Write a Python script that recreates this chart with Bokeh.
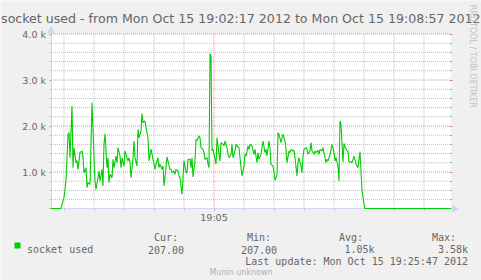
import math
import pandas as pd
from bokeh.plotting import figure
from bokeh.models import (Range1d, FixedTicker, DatetimeTickFormatter, LinearAxis,
                          Label, Arrow, NormalHead, BoxAnnotation, ColumnDataSource)
from bokeh.embed import file_html
from bokeh.resources import INLINE

# ---------------- data ----------------
title_text = "socket used - from Mon Oct 15 19:02:17 2012 to Mon Oct 15 19:08:57 2012"
t_start = "2012-10-15 19:02:17"
t_end = "2012-10-15 19:08:57"
series_name = "socket used"

secs = [0, 10, 11, 13, 15, 17, 18, 19, 21, 22, 23, 25, 26, 27, 29, 31, 32, 33, 35, 36, 37, 39,
        41, 43, 44, 45, 47, 48, 49, 51, 52, 53, 54, 56, 57, 58, 59, 61, 62, 63, 65, 66, 67, 69,
        70, 71, 73, 74, 75, 77, 78, 79, 80, 82, 83, 84, 86, 87, 88, 90, 91, 92, 94, 95, 97, 98,
        100, 102, 104, 105, 107, 108, 109, 111, 112, 113, 115, 116, 117, 119, 120, 121, 123, 124,
        125, 127, 128, 129, 131, 132, 133, 135, 136, 137, 139, 140, 141, 142, 144, 145, 146, 148,
        149, 150, 152, 153, 154, 156, 157, 158, 159, 160, 161, 162, 164, 165, 166, 168, 169, 170,
        172, 173, 174, 176, 177, 178, 180, 181, 182, 184, 185, 186, 188, 189, 190, 191, 193, 194,
        195, 197, 198, 199, 201, 203, 204, 206, 207, 208, 210, 211, 212, 214, 215, 216, 218, 219,
        220, 222, 223, 224, 226, 227, 228, 230, 231, 232, 234, 235, 236, 238, 239, 240, 242, 243,
        244, 246, 247, 248, 250, 251, 252, 253, 255, 256, 257, 259, 260, 261, 263, 264, 265, 267,
        268, 269, 271, 272, 273, 275, 276, 277, 279, 280, 281, 283, 284, 285, 287, 288, 289, 290,
        292, 293, 294, 296, 297, 298, 300, 301, 303, 304, 305, 307, 308, 309, 310, 311, 313, 314,
        400]
sockets = [207, 207, 298, 441, 804, 1820, 1860, 1311, 2435, 1094, 1528, 1202, 1250, 1058, 1420,
           1460, 1311, 985, 1094, 659, 768, 730,
           2507, 1311, 804, 623, 877, 1022, 804, 1058, 695, 1602, 1833, 1094, 1311, 768, 949, 877,
           1275, 1094, 1347, 1202, 1528, 1347,
           1094, 1311, 1130, 1456, 1384, 1239, 1311, 1202, 877, 1311, 1674, 1311, 1130, 1928, 1746,
           1891, 2268, 2073, 2110, 1964, 1746, 1239,
           1500, 1275, 1058, 1170, 1311, 1094, 1170, 1058, 1130, 696, 1094, 1326, 1239, 1058, 1058,
           985, 1022, 949,
           1058, 1022, 913, 877, 515, 877, 1239, 985, 985, 1275, 1275, 1094, 1311, 891, 1239, 1710,
           1690, 1783,
           1746, 1528, 1492, 1420, 1275, 1311, 1170, 1094, 3572, 3520, 1456, 1492, 1275, 1170, 1746,
           1384, 1239, 1638,
           1602, 1565, 1674, 1528, 1384, 1311, 1384, 1602, 1311, 1456, 1602, 1565, 1528, 1311, 1094,
           913, 1130, 1384,
           1347, 1565, 1492, 1602, 1565, 1384, 1492, 1202, 1420, 1275, 1384, 1528, 1674, 1420, 1492,
           1347, 1674, 1528,
           1166, 1130, 985, 819, 949, 1855, 1820, 1638, 1746, 1820, 1674, 1492, 1202, 1456, 1420,
           1492, 1456, 1470,
           1311, 913, 1202, 1311, 1130, 985, 1347, 1492, 1528, 1492, 1384, 1456, 1638, 1456, 1384,
           1456, 1420, 1470,
           1384, 1492, 1456, 1528, 1420, 1202, 1275, 1239, 1384, 1492, 1602, 1420, 1239, 1311, 1130,
           804, 2109, 2036,
           1220, 1620, 1550, 1460, 1440, 1220, 1220, 1202, 1347, 1275, 1166, 1094, 1275, 1442, 1022,
           587, 298, 207,
           207]

y_ticks = [1000, 2000, 3000, 4000]
y_tick_labels = ["1.0 k", "2.0 k", "3.0 k", "4.0 k"]
y_minor = [200, 400, 600, 800, 1200, 1400, 1600, 1800, 2200, 2400, 2600, 2800,
           3200, 3400, 3600, 3800]
y_limits = [200, 4000]
x_major = ["2012-10-15 19:05:00"]
x_minor = ["2012-10-15 19:02:30", "2012-10-15 19:03:00", "2012-10-15 19:03:30",
           "2012-10-15 19:04:00", "2012-10-15 19:04:30", "2012-10-15 19:05:30",
           "2012-10-15 19:06:00", "2012-10-15 19:06:30", "2012-10-15 19:07:00",
           "2012-10-15 19:07:30", "2012-10-15 19:08:00", "2012-10-15 19:08:30"]
legend_heads = ["Cur:", "Min:", "Avg:", "Max:"]
legend_vals = ["207.00", "207.00", "1.05k", "3.58k"]
last_update = "Last update: Mon Oct 15 19:25:47 2012"
footer = "Munin unknown"
watermark = "RRDTOOL / TOBI OETIKER"

# ---------------- layout helpers (pixel <-> data) ----------------
EPOCH = pd.Timestamp("1970-01-01")


def ms(s):
    return (pd.Timestamp(s) - EPOCH).total_seconds() * 1000.0


xs, xe = ms(t_start), ms(t_end)
W, H = 481, 280
PX_LEFT = 50.5          # pixel of the start time
MS_PER_PX = (xe - xs) / 400.0
PY_TOP = 33.5           # pixel of the top value
V_PER_PX = 1 / 0.046


def px(pix):
    return xs + (pix - PX_LEFT) * MS_PER_PX


def py(pix):
    return y_limits[1] - (pix - PY_TOP) * V_PER_PX


FONT = "#666666"
AXIS = "#CFD6F8"
MINOR = "#bdbdbd"
MAJOR = "#e08c8c"
MONO = "DejaVu Sans Mono"
SANS = "DejaVu Sans"

times = pd.Timestamp(t_start) + pd.to_timedelta(secs, unit="s")
src = ColumnDataSource(dict(t=times, v=sockets))

p = figure(width=W, height=H, x_axis_type="datetime",
           x_range=Range1d(px(0), px(W)), y_range=Range1d(py(H), py(0)),
           output_backend="svg", toolbar_location=None,
           min_border_left=0, min_border_right=0, min_border_top=0, min_border_bottom=0,
           background_fill_color="#F0F0F0", border_fill_color="#F0F0F0",
           outline_line_color=None)
p.title.visible = False
p.xgrid.visible = False
p.ygrid.visible = False

# canvas (white plot area)
p.quad(left=[xs], right=[xe], bottom=[y_limits[0]], top=[y_limits[1]],
       fill_color="white", line_color=None, level="image")

# grid lines (dotted), bounded to the canvas
xmin_ms = [ms(s) for s in x_minor]
xmaj_ms = [ms(s) for s in x_major]
ygrid_minor = y_minor[1:]
p.segment(x0=xmin_ms, x1=xmin_ms, y0=[y_limits[0]] * len(xmin_ms), y1=[y_limits[1]] * len(xmin_ms),
          line_color=MINOR, line_dash="1 1", line_width=1, level="underlay")
p.segment(x0=[xs] * len(ygrid_minor), x1=[xe] * len(ygrid_minor), y0=ygrid_minor, y1=ygrid_minor,
          line_color=MINOR, line_dash="1 1", line_width=1, level="underlay")
p.segment(x0=xmaj_ms, x1=xmaj_ms, y0=[y_limits[0]] * len(xmaj_ms), y1=[y_limits[1]] * len(xmaj_ms),
          line_color=MAJOR, line_dash="1 1", line_width=1, level="underlay")
p.segment(x0=[xs] * len(y_ticks), x1=[xe] * len(y_ticks), y0=y_ticks, y1=y_ticks,
          line_color=MAJOR, line_dash="1 1", line_width=1, level="underlay")

# axes, drawn at the canvas edges
xa = p.xaxis[0]
xa.fixed_location = y_limits[0]
xa.bounds = (px(48), xe)
xa.ticker = FixedTicker(ticks=xmaj_ms, minor_ticks=xmin_ms)
fmt = "%H:%M"
xa.formatter = DatetimeTickFormatter(microseconds=fmt, milliseconds=fmt, seconds=fmt,
                                     minsec=fmt, minutes=fmt, hourmin=fmt, hours=fmt,
                                     days=fmt, months=fmt, years=fmt)
ya = p.yaxis[0]
ya.fixed_location = xs
ya.bounds = (py(211), y_limits[1])
ya.ticker = FixedTicker(ticks=y_ticks, minor_ticks=y_minor)
ya.major_label_overrides = {t: l for t, l in zip(y_ticks, y_tick_labels)}
for a in (xa, ya):
    a.axis_line_color = AXIS
    a.major_tick_line_color = "#e08080"
    a.minor_tick_line_color = "#bbbbbb"
    a.major_tick_out = 2
    a.major_tick_in = 0
    a.minor_tick_out = 2
    a.minor_tick_in = 0
    a.major_label_text_font = SANS
    a.major_label_text_font_size = "9.5px"
    a.major_label_text_color = FONT
xa.major_label_standoff = 1
ya.major_label_standoff = 3

ra = LinearAxis(ticker=FixedTicker(ticks=y_ticks, minor_ticks=ygrid_minor),
                fixed_location=xe, bounds=(y_limits[0], y_limits[1]),
                major_label_overrides={t: "" for t in y_ticks},
                axis_line_color=None, major_tick_line_color="#e08080",
                minor_tick_line_color="#bbbbbb", major_tick_in=2, major_tick_out=1,
                minor_tick_in=2, minor_tick_out=1, major_label_standoff=0)
p.add_layout(ra, "right")

# arrows on axes
p.add_layout(Arrow(end=NormalHead(size=6, fill_color=AXIS, line_color=AXIS, line_width=1),
                   x_start=xs, y_start=y_limits[1], x_end=xs, y_end=py(26),
                   line_color=AXIS, line_width=1))
p.add_layout(Arrow(end=NormalHead(size=6, fill_color=AXIS, line_color=AXIS, line_width=1),
                   x_start=xe, y_start=y_limits[0], x_end=px(458), y_end=y_limits[0],
                   line_color=AXIS, line_width=1))

# series (drawn above the axis lines, like rrdtool)
p.line("t", "v", source=src, line_color="#00CC00", line_width=1.1, level="overlay")

# texts
p.add_layout(Label(x=px(240.3), y=py(18.3), text=title_text, text_align="center",
                   text_baseline="alphabetic", text_font=SANS,
                   text_font_size="12.6px", text_color=FONT))
p.add_layout(Label(x=px(471.5), y=py(4.3), text=watermark, angle=-math.pi / 2,
                   text_align="left", text_baseline="middle", text_font=SANS,
                   text_font_size="8px", text_color="#c0c0c0"))
p.add_layout(BoxAnnotation(left=px(14), right=px(20), top=py(242), bottom=py(248),
                           fill_color="#00CC00", fill_alpha=1, line_color=None))
p.add_layout(Label(x=px(26.5), y=py(249), text=series_name, text_align="left",
                   text_baseline="alphabetic", text_font=MONO, text_font_size="10px",
                   text_color=FONT))
for hx, h in zip([153.5, 246.5, 338.5, 431.5], legend_heads):
    p.add_layout(Label(x=px(hx), y=py(237), text=h, text_align="left",
                       text_baseline="alphabetic", text_font=MONO, text_font_size="10px",
                       text_color=FONT))
for vx, v in zip([147.4, 240.4, 344.0, 437.4], legend_vals):
    p.add_layout(Label(x=px(vx), y=py(249), text=v, text_align="left",
                       text_baseline="alphabetic", text_font=MONO, text_font_size="10px",
                       text_color=FONT))
p.add_layout(Label(x=px(467.5), y=py(260.8), text=last_update, text_align="right",
                   text_baseline="alphabetic", text_font=MONO, text_font_size="10px",
                   text_color=FONT))
p.add_layout(Label(x=px(240.5), y=py(272.3), text=footer, text_align="center",
                   text_baseline="alphabetic", text_font=SANS,
                   text_font_size="8px", text_color="#b0b0b0"))

open("out.html", "w").write(file_html(p, INLINE))
